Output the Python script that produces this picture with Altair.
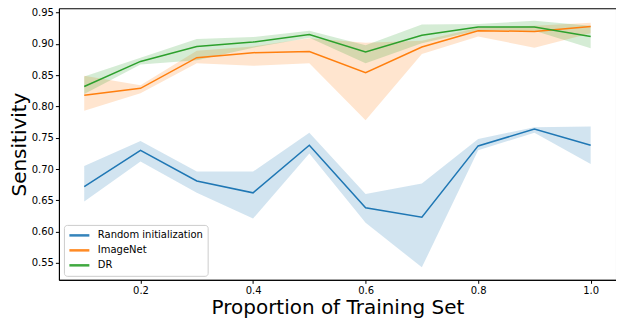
import altair as alt
import pandas as pd

proportions = [0.1, 0.2, 0.3, 0.4, 0.5, 0.6, 0.7, 0.8, 0.9, 1.0]
series_names = ["Random initialization", "ImageNet", "DR"]
series_colors = ["#1f77b4", "#ff7f0e", "#2ca02c"]

random_mean = [0.672, 0.730, 0.681, 0.662, 0.738, 0.638, 0.623, 0.737, 0.764, 0.738]
random_lo = [0.648, 0.712, 0.662, 0.621, 0.725, 0.614, 0.543, 0.730, 0.758, 0.708]
random_hi = [0.705, 0.745, 0.696, 0.696, 0.758, 0.660, 0.677, 0.748, 0.767, 0.768]

imagenet_mean = [0.818, 0.829, 0.878, 0.886, 0.888, 0.854, 0.895, 0.921, 0.920, 0.928]
imagenet_lo = [0.793, 0.821, 0.869, 0.865, 0.869, 0.778, 0.884, 0.912, 0.894, 0.917]
imagenet_hi = [0.849, 0.834, 0.889, 0.896, 0.909, 0.902, 0.905, 0.926, 0.929, 0.934]

dr_mean = [0.832, 0.872, 0.896, 0.903, 0.915, 0.887, 0.914, 0.927, 0.927, 0.912]
dr_lo = [0.820, 0.867, 0.874, 0.894, 0.910, 0.869, 0.901, 0.922, 0.921, 0.893]
dr_hi = [0.848, 0.878, 0.908, 0.911, 0.921, 0.898, 0.931, 0.932, 0.937, 0.929]

x_ticks = [0.2, 0.4, 0.6, 0.8, 1.0]
y_ticks = [0.55, 0.60, 0.65, 0.70, 0.75, 0.80, 0.85, 0.90, 0.95]

rows = []
for name, m, lo, hi in [
    ("Random initialization", random_mean, random_lo, random_hi),
    ("ImageNet", imagenet_mean, imagenet_lo, imagenet_hi),
    ("DR", dr_mean, dr_lo, dr_hi),
]:
    for x, a, b, c in zip(proportions, m, lo, hi):
        rows.append({"p": x, "model": name, "mean": a, "lo": b, "hi": c})
df = pd.DataFrame(rows)

xscale = alt.Scale(domain=[0.055, 1.045], nice=False, zero=False)
yscale = alt.Scale(domain=[0.523, 0.957], nice=False, zero=False)
cscale = alt.Scale(domain=series_names, range=series_colors)

xaxis = alt.Axis(values=x_ticks, format=".1f", title="Proportion of Training Set")
yaxis = alt.Axis(values=y_ticks, format=".2f", title="Sensitivity")

base = alt.Chart(df)

bands = base.mark_area(opacity=0.2).encode(
    x=alt.X("p:Q", scale=xscale, axis=xaxis),
    y=alt.Y("lo:Q", scale=yscale, axis=yaxis),
    y2="hi:Q",
    color=alt.Color("model:N", scale=cscale, legend=None),
    detail="model:N",
)

lines = base.mark_line(strokeWidth=1.5).encode(
    x=alt.X("p:Q", scale=xscale, axis=xaxis),
    y=alt.Y("mean:Q", scale=yscale, axis=yaxis),
    color=alt.Color(
        "model:N",
        scale=cscale,
        legend=alt.Legend(
            title=None,
            orient="none",
            legendX=5,
            legendY=217,
            symbolType="stroke",
            symbolSize=400,
            symbolStrokeWidth=2.5,
            clipHeight=13,
            rowPadding=2,
            labelOffset=7,
            labelFontSize=10,
            labelFont="DejaVu Sans",
            labelColor="black",
            fillColor="white",
            strokeColor="#cccccc",
            cornerRadius=3,
            padding=4,
            symbolOpacity=0.9,
        ),
    ),
)

chart = (
    alt.layer(bands, lines)
    .resolve_legend(color="independent")
    .properties(
        width=558,
        height=272,
        autosize=alt.AutoSizeParams(type="none"),
        padding={"left": 51, "top": 0, "right": 0, "bottom": 40},
    )
    .configure_view(stroke="black", strokeWidth=1)
    .configure_axis(
        grid=False,
        domainColor="black",
        tickColor="black",
        tickSize=3.5,
        labelColor="black",
        labelFont="DejaVu Sans",
        labelFontSize=10,
        labelPadding=2,
        titleFont="DejaVu Sans",
        titleFontSize=20,
        titleFontWeight="normal",
        titleColor="black",
    )
    .configure_axisX(titlePadding=2)
    .configure_axisY(titlePadding=2)
)

chart.save("out.html", embed_options={"renderer": "svg", "actions": False})
